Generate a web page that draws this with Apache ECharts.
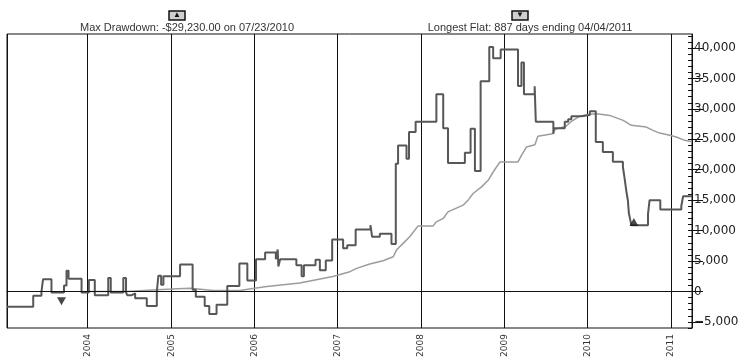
<!DOCTYPE html>
<html><head><meta charset="utf-8">
<script src="https://cdn.jsdelivr.net/npm/echarts@6/dist/echarts.min.js"></script>
<style>html,body{margin:0;padding:0;background:#fff}#c{width:751px;height:364px}</style>
</head><body><div id="c"></div>
<script>
// Equity curve (step line): date where value begins, value in $
const equityDates = ['2003-01-12','2003-05-07','2003-06-12','2003-06-19','2003-07-26','2003-09-19','2003-09-30','2003-10-09','2003-12-05',
'2004-01-06','2004-02-01','2004-03-31','2004-04-11','2004-06-05','2004-06-17','2004-06-22','2004-07-12','2004-07-27','2004-09-16','2004-10-30','2004-11-06','2004-11-18','2004-11-28',
'2005-02-09','2005-04-05','2005-04-19','2005-05-28','2005-06-17','2005-07-19','2005-09-04','2005-10-27','2005-12-01',
'2006-01-08','2006-02-17','2006-04-05','2006-04-13','2006-04-16','2006-04-24','2006-07-04','2006-07-27','2006-08-06','2006-09-26','2006-10-15','2006-11-10','2006-12-08',
'2007-01-25','2007-02-12','2007-03-21','2007-05-25','2007-06-01','2007-07-05','2007-08-25','2007-09-13','2007-09-23','2007-10-30','2007-11-10','2007-12-09',
'2008-03-09','2008-04-08','2008-04-29','2008-07-12','2008-08-06','2008-08-25','2008-09-19','2008-10-27','2008-11-13','2008-12-16',
'2009-03-02','2009-03-17','2009-03-28','2009-05-14','2009-05-19','2009-08-04','2009-08-06','2009-09-23','2009-10-08','2009-10-22','2009-12-05',
'2010-01-11','2010-02-06','2010-03-09','2010-04-22','2010-06-05','2010-06-12','2010-06-20','2010-06-27','2010-07-01','2010-07-07','2010-07-12','2010-09-23','2010-09-30','2010-11-16',
'2011-02-16','2011-02-24','2011-04-04'];
const equityValues = [-2500,-700,-100,2000,-150,1000,3400,2100,-150,
1900,-600,2200,-150,2200,-150,-600,-300,-1100,-2400,0,2600,1100,2500,
4450,300,-850,-2400,-3700,-2200,900,4600,1800,
5300,6400,5300,6900,4100,5300,4300,2500,4300,5200,3500,5100,8550,
7100,7600,10200,10900,9000,9500,7800,21000,24000,21800,26200,27900,
32400,26800,21100,22800,26750,19800,34550,40150,38300,39750,
33750,37600,32400,33700,27900,25900,26800,27900,28300,28800,29000,
29600,24550,22900,21300,20450,18700,16500,14900,12900,11800,10900,12700,15000,13450,
14000,15650,15650];

// Moving average of equity
const avgDates = ['2004-01-01','2004-06-22','2004-10-13','2005-01-04','2005-03-25','2005-07-03','2005-10-30','2005-12-25',
'2006-02-25','2006-07-19','2006-12-11','2007-02-24','2007-03-25','2007-05-22','2007-07-19','2007-09-02','2007-09-16','2007-10-15','2007-11-13','2007-12-19',
'2008-02-23','2008-03-09','2008-04-08','2008-04-29','2008-07-04','2008-07-26','2008-08-17','2008-09-23','2008-10-22','2008-11-13','2008-12-13',
'2009-03-02','2009-03-17','2009-04-08','2009-05-15','2009-05-28','2009-08-01','2009-08-14','2009-09-27','2009-10-24','2009-11-28',
'2010-01-11','2010-02-09','2010-04-08','2010-06-06','2010-07-12','2010-09-16','2010-10-15','2010-11-13','2010-12-27',
'2011-01-25','2011-03-03','2011-04-04'];
const avgValues = [0,0,250,400,550,150,150,500,
800,1400,2450,3250,3800,4500,5050,5700,6800,7900,9000,10740,
10740,11440,12000,13080,14180,15000,16100,17180,18270,19630,21280,
21280,22370,23730,24100,25500,25930,26700,27100,28000,28800,
29100,29200,28930,28110,27290,27010,26470,26020,25650,
25370,24830,24600];

// Drawdown / flat markers
const markerDates = ['2003-09-08','2010-07-23'];
const markerValues = [-1600, 11400];
const markerRotations = [180, 0];

const yTickValues = [-5000,0,5000,10000,15000,20000,25000,30000,35000,40000];
const annotationTexts = ['Max Drawdown: -$29,230.00 on 07/23/2010','Longest Flat: 887 days ending 04/04/2011'];
const annotationIcons = ['\u25B2','\u25BC'];

const yMinor = [];
for (let v = -6000; v <= 42000; v += 1000) yMinor.push(v);

const fmt = v => (v < 0 ? '\u2212' : '') + Math.abs(v).toLocaleString('en-US');

const chart = echarts.init(document.getElementById('c'), null, {renderer: 'canvas'});
const annX = [187, 530];
const iconX = [177, 520];
const graphic = [];
annotationTexts.forEach((t, i) => {
  graphic.push({type: 'text', x: annX[i], y: 22, style: {text: t, textAlign: 'center', fontSize: 11, fontFamily: 'Liberation Sans, Arial', fill: '#333'}});
  graphic.push({type: 'rect', x: iconX[i] - 8, y: 11, shape: {width: 16, height: 9}, style: {fill: '#cfcfcf', stroke: '#111', lineWidth: 1.5}});
  graphic.push({type: 'text', x: iconX[i], y: 11, style: {text: annotationIcons[i], textAlign: 'center', fontSize: 8, fill: '#111'}});
});

chart.setOption({
  animation: false,
  backgroundColor: '#fff',
  grid: {left: 7, right: 59, top: 34, bottom: 36, show: true, borderColor: '#111', borderWidth: 1, backgroundColor: 'transparent'},
  graphic: graphic,
  xAxis: {
    type: 'time', min: '2003-01-12', max: '2011-04-04',
    minInterval: 365 * 86400000, maxInterval: 366 * 86400000,
    axisLine: {show: true, lineStyle: {color: '#111'}},
    axisTick: {show: true, length: 8, lineStyle: {color: '#111'}},
    splitLine: {show: true, lineStyle: {color: '#111', width: 1}},
    axisLabel: {rotate: 90, formatter: '{yyyy}', fontSize: 9, fontFamily: 'DejaVu Sans', color: '#333', margin: 6, showMinLabel: false, showMaxLabel: false}
  },
  yAxis: [{
    type: 'value', position: 'right', min: -6000, max: 42300,
    splitLine: {show: false},
    axisLine: {show: true, lineStyle: {color: '#111'}},
    axisTick: {show: true, inside: true, length: 4, customValues: yMinor, lineStyle: {color: '#111'}},
    axisLabel: {show: false}
  }, {
    type: 'value', position: 'right', min: -6000, max: 42300,
    splitLine: {show: false},
    axisLine: {show: false},
    axisTick: {show: true, length: 11, customValues: yTickValues, lineStyle: {color: '#111'}},
    axisLabel: {show: true, customValues: yTickValues, formatter: fmt, margin: 2, fontSize: 12, fontFamily: 'DejaVu Sans', color: '#222'}
  }],
  series: [{
    type: 'line', name: 'Average',
    data: avgDates.map((d, i) => [d, avgValues[i]]),
    showSymbol: false, symbol: 'none',
    lineStyle: {color: '#9c9c9c', width: 1.5},
    z: 2,
    markLine: {silent: true, symbol: 'none', label: {show: false},
      lineStyle: {color: '#111', width: 1, type: 'solid'}, data: [{yAxis: 0}]}
  }, {
    type: 'line', name: 'Equity', step: 'end',
    data: equityDates.map((d, i) => [d, equityValues[i]]),
    showSymbol: false, symbol: 'none',
    lineStyle: {color: '#575757', width: 2},
    z: 3
  }, {
    type: 'scatter', name: 'Markers',
    data: markerDates.map((d, i) => ({value: [d, markerValues[i]], symbolRotate: markerRotations[i]})),
    symbol: 'triangle', symbolSize: [9, 8],
    itemStyle: {color: '#1a1a1a'},
    z: 4
  }]
});
</script>
</body></html>
